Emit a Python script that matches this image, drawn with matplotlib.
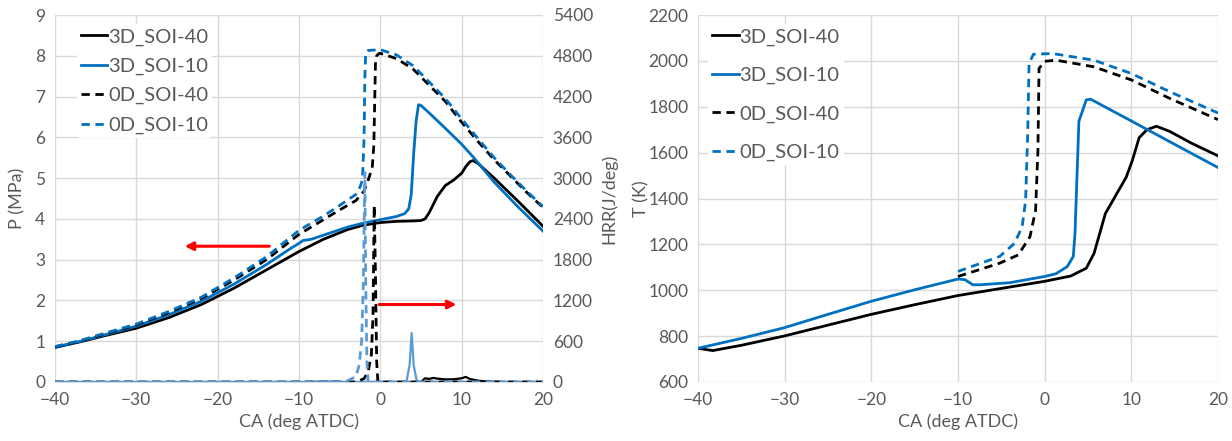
import matplotlib.pyplot as plt
import numpy as np

plt.rcParams['font.family'] = ['Lato', 'DejaVu Sans']

# ---- left panel: cylinder pressure (MPa) ----
ca_p3d40 = [-40, -37, -34, -30, -26, -22, -18, -14, -10, -7, -4, -2, 0, 2, 4, 5, 5.5, 6, 7, 8, 9, 10,
            10.5, 11, 11.4, 12, 14, 17, 20]
p_3d40 = [0.85, 0.98, 1.13, 1.32, 1.58, 1.9, 2.3, 2.75, 3.2, 3.5, 3.74, 3.85, 3.91, 3.94, 3.95, 3.96, 4.0,
          4.15, 4.55, 4.82, 4.95, 5.12, 5.28, 5.4, 5.43, 5.36, 5.0, 4.42, 3.82]

ca_p3d10 = [-40, -37, -34, -30, -26, -22, -18, -14, -11, -10, -9.5, -8.5, -7, -4, -2, 0, 2, 3, 3.5, 3.8,
            4.1, 4.4, 4.7, 5, 6, 8, 10, 11.5, 14, 17, 20]
p_3d10 = [0.85, 0.99, 1.15, 1.37, 1.65, 1.98, 2.4, 2.88, 3.28, 3.4, 3.47, 3.5, 3.6, 3.8, 3.9, 3.98, 4.06,
          4.13, 4.25, 4.6, 5.6, 6.4, 6.8, 6.78, 6.6, 6.22, 5.83, 5.5, 4.9, 4.28, 3.7]

ca_p0d40 = [-40, -37, -34, -30, -26, -22, -18, -14, -10, -7, -5, -3, -2, -1.5, -1, -0.8, -0.7, -0.6, -0.45,
            -0.2, 0, 2, 4, 6, 8, 10, 12, 14, 16, 18, 20]
p_0d40 = [0.86, 1.0, 1.17, 1.4, 1.7, 2.05, 2.5, 3.0, 3.62, 3.98, 4.22, 4.45, 4.68, 4.95, 5.25, 5.8, 6.8,
          7.8, 8.0, 8.05, 8.06, 7.93, 7.68, 7.28, 6.88, 6.37, 5.9, 5.45, 5.05, 4.65, 4.28]

ca_p0d10 = [-40, -37, -34, -30, -26, -22, -18, -14, -10, -7, -5, -3, -2.5, -2.2, -2.0, -1.9, -1.8, -1.5,
            0, 2, 4, 6, 8, 10, 12, 14, 16, 18, 20]
p_0d10 = [0.87, 1.01, 1.19, 1.42, 1.73, 2.08, 2.55, 3.07, 3.72, 4.07, 4.33, 4.6, 4.78, 4.95, 6.0, 7.5, 8.05,
          8.13, 8.15, 8.02, 7.76, 7.36, 6.95, 6.45, 5.97, 5.5, 5.08, 4.68, 4.3]

# ---- left panel: heat release rate (J/deg) ----
ca_h3d40 = [-40, 5, 5.5, 6, 6.5, 7, 8, 9, 10, 10.5, 11, 12, 13, 15, 20]
hrr_3d40 = [0, 0, 55, 45, 60, 50, 38, 40, 55, 75, 45, 20, 8, 0, 0]

ca_h3d10 = [-40, -9, -8, -7, -6, -5, 3.2, 3.6, 3.85, 4.1, 4.5, 20]
hrr_3d10 = [0, 0, 8, 4, 10, 0, 0, 250, 720, 250, 0, 0]

ca_h0d40 = [-40, -3, -2, -1.5, -1.1, -0.9, -0.75, -0.6, -0.45, -0.3, 20]
hrr_0d40 = [0, 0, 50, 150, 400, 1000, 2600, 1600, 300, 0, 0]

ca_h0d10 = [-40, -5, -4, -3, -2.6, -2.3, -2.1, -1.9, -1.8, -1.65, -1.5, 20]
hrr_0d10 = [0, 0, 20, 80, 250, 600, 1400, 3080, 1500, 300, 0, 0]

# ---- right panel: temperature (K) ----
ca_t3d40 = [-40, -38.3, -35, -30, -25, -20, -15, -10, -5, 0, 3, 4.8, 5.7, 7.0, 8.3, 9.4, 10.1, 10.9, 11.8,
            12.9, 14.4, 17, 20]
t_3d40 = [747, 737, 760, 801, 848, 895, 937, 977, 1008, 1039, 1062, 1096, 1161, 1334, 1420, 1492, 1564, 1665,
          1700, 1715, 1693, 1640, 1586]

ca_t3d10 = [-40, -35, -30, -25, -20, -15, -10, -9.2, -8.3, -7.4, -4, 0, 1.3, 2.6, 3.3, 3.5, 3.95, 4.8, 5.3,
            10, 15, 20]
t_3d10 = [747, 790, 837, 895, 952, 1002, 1049, 1046, 1024, 1024, 1033, 1060, 1072, 1103, 1147, 1247, 1737,
          1830, 1833, 1738, 1636, 1535]

ca_t0d40 = [-10, -5.2, -3.05, -1.7, -1.05, -0.78, -0.65, 0, 1.3, 5.7, 10, 14.4, 20]
t_0d40 = [1060, 1118, 1154, 1233, 1348, 1607, 1967, 1998, 2003, 1974, 1917, 1837, 1744]

ca_t0d10 = [-10, -5.2, -3.5, -2.6, -2.2, -1.96, -1.8, -1.3, 0.9, 5.7, 10, 14.4, 20]
t_0d10 = [1082, 1147, 1204, 1276, 1391, 1679, 1988, 2029, 2032, 2003, 1945, 1866, 1773]

labels = ['3D_SOI-40', '3D_SOI-10', '0D_SOI-40', '0D_SOI-10']

BLUE = '#0070C0'
LBLUE = '#5B9BD5'
GRID = '#D9D9D9'
TXT = '#595959'
DASH = (0, (3, 2))
LW = 2.0

fig = plt.figure(figsize=(12.32, 4.41), dpi=100)


def style_axis(ax):
    for s in ax.spines.values():
        s.set_visible(False)
    ax.tick_params(length=0, labelsize=12.5, labelcolor=TXT, pad=7)
    ax.grid(True, color=GRID, lw=1)
    ax.set_axisbelow(True)


def make_legend(ax, x0, y0, spacing):
    leg = ax.legend(loc='upper left', bbox_to_anchor=(x0, y0), fontsize=14.5, frameon=True,
                    facecolor='white', edgecolor='none', framealpha=1, handlelength=1.3,
                    handletextpad=0.05, labelspacing=spacing, borderpad=0.2, borderaxespad=0)
    for t in leg.get_texts():
        t.set_color(TXT)
    return leg


# left panel
ax1 = fig.add_axes([55 / 1232, 59 / 441, 488 / 1232, 367 / 441])
style_axis(ax1)
ax1.spines['bottom'].set_visible(True)
ax1.spines['bottom'].set_color(GRID)
ax1.plot(ca_p3d40, p_3d40, color='black', lw=LW, label=labels[0])
ax1.plot(ca_p3d10, p_3d10, color=BLUE, lw=LW, label=labels[1])
ax1.plot(ca_p0d40, p_0d40, color='black', lw=LW, ls=DASH, label=labels[2])
ax1.plot(ca_p0d10, p_0d10, color=BLUE, lw=LW, ls=DASH, label=labels[3])
ax1.set_xlim(-40, 20)
ax1.set_ylim(0, 9)
ax1.set_xticks(np.arange(-40, 21, 10))
ax1.set_yticks(np.arange(0, 10, 1))
ax1.set_xlabel('CA (deg ATDC)', fontsize=13, color=TXT)
ax1.set_ylabel('P (MPa)', fontsize=13, color=TXT)
ax1.yaxis.set_label_coords(-0.06, 0.5)

ax1b = ax1.twinx()
for s in ax1b.spines.values():
    s.set_visible(False)
ax1b.tick_params(length=0, labelsize=12.5, labelcolor=TXT, pad=7)
ax1b.plot(ca_h3d40, hrr_3d40, color='black', lw=1.6)
ax1b.plot(ca_h3d10, hrr_3d10, color=LBLUE, lw=1.6)
ax1b.plot(ca_h0d40, hrr_0d40, color='black', lw=LW, ls=DASH)
ax1b.plot(ca_h0d10, hrr_0d10, color=LBLUE, lw=LW, ls=DASH)
ax1b.set_ylim(0, 5400)
ax1b.set_yticks(np.arange(0, 5401, 600))
ax1b.set_ylabel('HRR(J/deg)', fontsize=13, color=TXT)
ax1b.yaxis.set_label_coords(1.119, 0.5)

ax1b.annotate('', xy=(-24.4, 3.33 * 600), xytext=(-13.3, 3.33 * 600),
              arrowprops=dict(arrowstyle='-|>', color='red', lw=2.2, mutation_scale=12))
ax1b.annotate('', xy=(9.7, 1.9 * 600), xytext=(-0.5, 1.9 * 600),
              arrowprops=dict(arrowstyle='-|>', color='red', lw=2.2, mutation_scale=12))

leg = make_legend(ax1, 0.045, 0.975, 0.6)
leg.set_zorder(5)

# right panel
ax2 = fig.add_axes([698 / 1232, 59 / 441, 520 / 1232, 367 / 441])
style_axis(ax2)
ax2.plot(ca_t3d40, t_3d40, color='black', lw=LW, label=labels[0])
ax2.plot(ca_t3d10, t_3d10, color=BLUE, lw=LW, label=labels[1])
ax2.plot(ca_t0d40, t_0d40, color='black', lw=LW, ls=DASH, label=labels[2])
ax2.plot(ca_t0d10, t_0d10, color=BLUE, lw=LW, ls=DASH, label=labels[3])
ax2.set_xlim(-40, 20)
ax2.set_ylim(600, 2200)
ax2.set_xticks(np.arange(-40, 21, 10))
ax2.set_yticks(np.arange(600, 2201, 200))
ax2.set_xlabel('CA (deg ATDC)', fontsize=13, color=TXT)
ax2.set_ylabel('T (K)', fontsize=13, color=TXT)
ax2.yaxis.set_label_coords(-0.093, 0.5)

make_legend(ax2, 0.02, 0.975, 1.05)

fig.savefig('out.png', dpi=100)
